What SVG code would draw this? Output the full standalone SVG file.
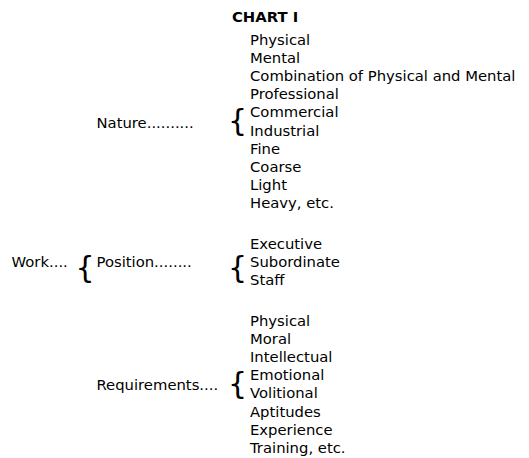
<svg xmlns="http://www.w3.org/2000/svg" width="529" height="458" viewBox="0 0 529 458">
<style>
text{font-family:"DejaVu Sans",sans-serif;font-size:14.8px;fill:#000}
.t{font-weight:bold}
.b{font-size:30px}
</style>
<rect width="529" height="458" fill="#fff"/>
<g id="title"><text class="t" x="232" y="22">CHART I</text></g>
<g id="work"><text x="11.5" y="266.7">Work....</text><text class="b" x="75.5" y="277.5">{</text></g>
<g id="nature">
<text x="96.5" y="127.5">Nature..........</text>
<text class="b" x="228" y="131">{</text>
<text x="250" y="44.5">Physical</text>
<text x="250" y="62.7">Mental</text>
<text x="250" y="80.9">Combination of Physical and Mental</text>
<text x="250" y="99.1">Professional</text>
<text x="250" y="117.3">Commercial</text>
<text x="250" y="135.5">Industrial</text>
<text x="250" y="153.7">Fine</text>
<text x="250" y="171.9">Coarse</text>
<text x="250" y="190.1">Light</text>
<text x="250" y="208.3">Heavy, etc.</text>
</g>
<g id="position">
<text x="96.5" y="266.7">Position........</text>
<text class="b" x="228" y="277.5">{</text>
<text x="250" y="248.5">Executive</text>
<text x="250" y="266.7">Subordinate</text>
<text x="250" y="284.9">Staff</text>
</g>
<g id="requirements">
<text x="96.5" y="390">Requirements....</text>
<text class="b" x="228" y="394">{</text>
<text x="250" y="325.5">Physical</text>
<text x="250" y="343.7">Moral</text>
<text x="250" y="361.9">Intellectual</text>
<text x="250" y="380.1">Emotional</text>
<text x="250" y="398.3">Volitional</text>
<text x="250" y="416.5">Aptitudes</text>
<text x="250" y="434.7">Experience</text>
<text x="250" y="452.9">Training, etc.</text>
</g>
<g id="connectors"/>
</svg>
